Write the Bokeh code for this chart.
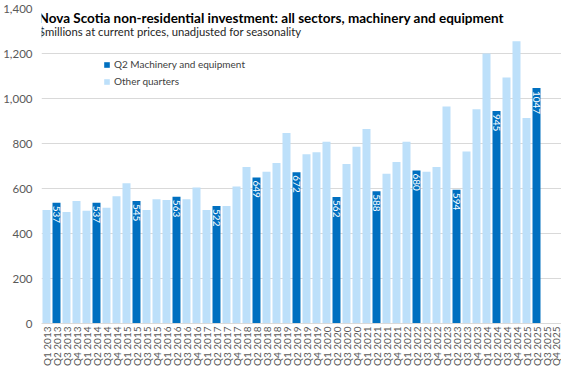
from math import pi
from bokeh.plotting import figure
from bokeh.models import (ColumnDataSource, Label, Legend, LegendItem,
                          NumeralTickFormatter, FixedTicker, FactorRange, Range1d)
from bokeh.core.properties import value
from bokeh.embed import file_html
from bokeh.resources import INLINE

# ---- data ----
years = list(range(2013, 2026))
quarters = [f"Q{q} {y}" for y in years for q in range(1, 5)]
investment = [505, 537, 496, 545,
              501, 537, 515, 566,
              623, 545, 505, 552,
              549, 563, 552, 605,
              505, 522, 522, 609,
              696, 649, 674, 713,
              847, 672, 752, 761,
              808, 562, 709, 786,
              865, 588, 666, 718,
              808, 680, 674, 696,
              964, 594, 765, 952,
              1200, 945, 1093, 1254,
              913, 1047]
y_ticks = [0, 200, 400, 600, 800, 1000, 1200, 1400]
title_text = "Nova Scotia non-residential  investment: all sectors, machinery and equipment"
subtitle_text = "$millions at current prices, unadjusted for seasonality"
legend_q2 = "Q2 Machinery and equipment"
legend_other = "Other quarters"

DARK = "#0070c0"
LIGHT = "#bde0fa"
GRID = "#d9d9d9"
TXT = "#595959"
FONT = "Lato"

q2_x = [q for q, v in zip(quarters, investment) if q.startswith("Q2")]
q2_v = [v for q, v in zip(quarters, investment) if q.startswith("Q2")]
ot_x = [q for q, v in zip(quarters, investment) if not q.startswith("Q2")]
ot_v = [v for q, v in zip(quarters, investment) if not q.startswith("Q2")]

src_q2 = ColumnDataSource(dict(x=q2_x, top=q2_v, lab=[str(v) for v in q2_v]))
src_ot = ColumnDataSource(dict(x=ot_x, top=ot_v))

p = figure(x_range=FactorRange(*quarters), y_range=Range1d(0, 1400),
           width=561, height=369, output_backend="svg", toolbar_location=None,
           min_border_left=37, min_border_right=0, min_border_top=8,
           min_border_bottom=40)

r_ot = p.vbar(x="x", top="top", width=0.8, source=src_ot, fill_color=LIGHT, line_color=None)
r_q2 = p.vbar(x="x", top="top", width=0.8, source=src_q2, fill_color=DARK, line_color=None)

p.text(x="x", y="top", text="lab", source=src_q2, angle=-pi/2,
       text_align="left", text_baseline="middle", text_color="white",
       text_font=value(FONT), text_font_size="10px", y_offset=3)

p.yaxis.ticker = FixedTicker(ticks=y_ticks)
p.yaxis.formatter = NumeralTickFormatter(format="0,0")
p.yaxis.axis_line_color = None
p.yaxis.major_tick_line_color = None
p.yaxis.minor_tick_line_color = None
p.yaxis.major_tick_out = 0
p.yaxis.major_tick_in = 0
p.yaxis.minor_tick_out = 0
p.yaxis.major_label_text_font = FONT
p.yaxis.major_label_text_font_size = "11.5px"
p.yaxis.major_label_text_color = TXT
p.yaxis.major_label_standoff = 9

p.xaxis.major_label_orientation = pi/2
p.xaxis.major_label_text_font = FONT
p.xaxis.major_label_text_font_size = "10px"
p.xaxis.major_label_text_color = TXT
p.xaxis.axis_line_color = GRID
p.xaxis.major_tick_line_color = None
p.xaxis.minor_tick_line_color = None
p.xaxis.major_tick_out = 0
p.xaxis.major_tick_in = 0
p.xaxis.minor_tick_out = 0
p.xaxis.major_label_standoff = 3

p.xgrid.grid_line_color = None
p.ygrid.grid_line_color = GRID
p.outline_line_color = None

p.add_layout(Label(x=-3, y=306, x_units="screen", y_units="screen", text=title_text,
                   text_font=FONT, text_font_style="bold",
                   text_font_size="13.5px", text_color="black", text_baseline="alphabetic"))
p.add_layout(Label(x=-3, y=292, x_units="screen", y_units="screen", text=subtitle_text,
                   text_font=FONT,
                   text_font_size="11.3px", text_color="#262626", text_baseline="alphabetic"))

legend = Legend(items=[LegendItem(label=legend_q2, renderers=[r_q2]),
                       LegendItem(label=legend_other, renderers=[r_ot])],
                location=(62, 236), glyph_width=7, glyph_height=7,
                label_text_font_size="10px", label_text_color="#404040",
                label_text_font=FONT,
                label_standoff=4, spacing=5, padding=0, margin=0,
                border_line_color=None, background_fill_alpha=0)
p.add_layout(legend)

open("out.html", "w").write(file_html(p, INLINE))
